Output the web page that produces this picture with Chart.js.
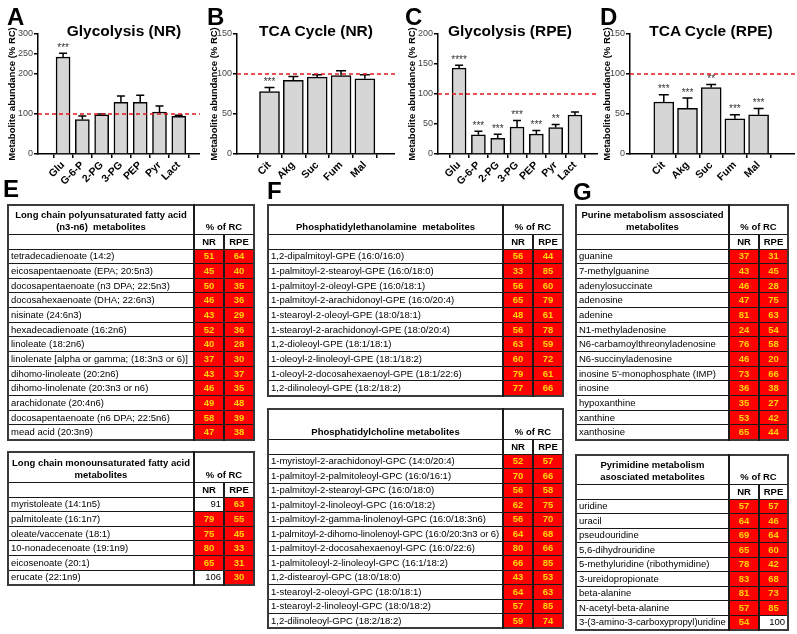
<!DOCTYPE html>
<html>
<head>
<meta charset="utf-8">
<script src="https://cdn.jsdelivr.net/npm/chart.js@4.4.1/dist/chart.umd.min.js"></script>
<style>
body { margin: 0; background: #fff; font-family: Arial, "Liberation Sans", sans-serif; }
#page { position: relative; width: 797px; height: 634px; overflow: hidden; }
canvas { position: absolute; top: 0; }
.lt { position: absolute; font-weight: bold; font-size: 24px; line-height: 24px; }
.ttl { position: absolute; top: 23px; font-weight: bold; font-size: 15.5px; line-height: 16px; white-space: nowrap; transform: translateX(-50%); }
table.t { position: absolute; border-collapse: collapse; table-layout: fixed; font-size: 9.5px; border: 2px solid #3a3a3a; }
table.t td { border: 1px solid #1a1a1a; padding: 0 2px; white-space: nowrap; overflow: hidden; line-height: 12px; }
table.t td.hd { font-weight: bold; text-align: center; vertical-align: bottom; padding-bottom: 1px; }
table.t td.sub { font-weight: bold; text-align: center; }
table.t td.c1 { border-left: 2px solid #1a1a1a; }
table.t td.v { text-align: center; font-weight: bold; color: #ffd400; background: #ff0000; }
table.t td.w { text-align: right; color: #000; }
</style>
</head>
<body>
<div id="page">
  <canvas id="chartA" width="200" height="190" style="left:0px"></canvas>
  <canvas id="chartB" width="193" height="190" style="left:202px"></canvas>
  <canvas id="chartC" width="198" height="190" style="left:400px"></canvas>
  <canvas id="chartD" width="200" height="190" style="left:595px"></canvas>

  <div class="ttl" style="left:124px">Glycolysis (NR)</div>
  <div class="ttl" style="left:316px">TCA Cycle (NR)</div>
  <div class="ttl" style="left:510px">Glycolysis (RPE)</div>
  <div class="ttl" style="left:711px">TCA Cycle (RPE)</div>

  <div class="lt" style="left:7px;top:5px">A</div>
  <div class="lt" style="left:207px;top:5px">B</div>
  <div class="lt" style="left:405px;top:5px">C</div>
  <div class="lt" style="left:600px;top:5px">D</div>
  <div class="lt" style="left:3px;top:177px">E</div>
  <div class="lt" style="left:267px;top:179px">F</div>
  <div class="lt" style="left:573px;top:180px">G</div>
</div>

<script>
// bar charts
const glyLabels = ["Glu", "G-6-P", "2-PG", "3-PG", "PEP", "Pyr", "Lact"];
const tcaLabels = ["Cit", "Akg", "Suc", "Fum", "Mal"];

const glyNR = [242, 86, 98, 129, 129, 105, 94];
const glyNRSem = [10, 9, 2, 16, 18, 15, 3];
const glyNRStars = ["***", "", "", "", "", "", ""];

const tcaNR = [78, 92, 96, 98, 94];
const tcaNRSem = [5, 5, 3, 6, 5];
const tcaNRStars = ["***", "", "", "", ""];

const glyRPE = [143, 32, 26, 45, 33, 44, 65];
const glyRPESem = [5, 6, 7, 11, 6, 5, 5];
const glyRPEStars = ["****", "***", "***", "***", "***", "**", ""];

const tcaRPE = [65, 57, 83, 44, 49];
const tcaRPESem = [9, 13, 4, 5, 8];
const tcaRPEStars = ["***", "***", "**", "***", "***"];

const ticksA = [0, 100, 200, 250, 300];
const ticksB = [0, 50, 100, 150];
const ticksC = [0, 50, 100, 150, 200];
const ticksD = [0, 50, 100, 150];
const refLevel = 100;

// tables
const pufaNames = ["tetradecadienoate (14:2)", "eicosapentaenoate (EPA; 20:5n3)", "docosapentaenoate (n3 DPA; 22:5n3)",
  "docosahexaenoate (DHA; 22:6n3)", "nisinate (24:6n3)", "hexadecadienoate (16:2n6)", "linoleate (18:2n6)",
  "linolenate [alpha or gamma; (18:3n3 or 6)]", "dihomo-linoleate (20:2n6)", "dihomo-linolenate (20:3n3 or n6)",
  "arachidonate (20:4n6)", "docosapentaenoate (n6 DPA; 22:5n6)", "mead acid (20:3n9)"];
const pufaNR = [51, 45, 50, 46, 43, 52, 40, 37, 43, 46, 49, 58, 47];
const pufaRPE = [64, 40, 35, 36, 29, 36, 28, 30, 37, 35, 48, 39, 38];

const mufaNames = ["myristoleate (14:1n5)", "palmitoleate (16:1n7)", "oleate/vaccenate (18:1)",
  "10-nonadecenoate (19:1n9)", "eicosenoate (20:1)", "erucate (22:1n9)"];
const mufaNR = [91, 79, 75, 80, 65, 106];
const mufaRPE = [63, 55, 45, 33, 31, 30];

const peNames = ["1,2-dipalmitoyl-GPE (16:0/16:0)", "1-palmitoyl-2-stearoyl-GPE (16:0/18:0)",
  "1-palmitoyl-2-oleoyl-GPE (16:0/18:1)", "1-palmitoyl-2-arachidonoyl-GPE (16:0/20:4)",
  "1-stearoyl-2-oleoyl-GPE (18:0/18:1)", "1-stearoyl-2-arachidonoyl-GPE (18:0/20:4)",
  "1,2-dioleoyl-GPE (18:1/18:1)", "1-oleoyl-2-linoleoyl-GPE (18:1/18:2)",
  "1-oleoyl-2-docosahexaenoyl-GPE (18:1/22:6)", "1,2-dilinoleoyl-GPE (18:2/18:2)"];
const peNR = [56, 33, 56, 65, 48, 56, 63, 60, 79, 77];
const peRPE = [44, 85, 60, 79, 61, 78, 59, 72, 61, 66];

const pcNames = ["1-myristoyl-2-arachidonoyl-GPC (14:0/20:4)", "1-palmitoyl-2-palmitoleoyl-GPC (16:0/16:1)",
  "1-palmitoyl-2-stearoyl-GPC (16:0/18:0)", "1-palmitoyl-2-linoleoyl-GPC (16:0/18:2)",
  "1-palmitoyl-2-gamma-linolenoyl-GPC (16:0/18:3n6)", "1-palmitoyl-2-dihomo-linolenoyl-GPC (16:0/20:3n3 or 6)",
  "1-palmitoyl-2-docosahexaenoyl-GPC (16:0/22:6)", "1-palmitoleoyl-2-linoleoyl-GPC (16:1/18:2)",
  "1,2-distearoyl-GPC (18:0/18:0)", "1-stearoyl-2-oleoyl-GPC (18:0/18:1)",
  "1-stearoyl-2-linoleoyl-GPC (18:0/18:2)", "1,2-dilinoleoyl-GPC (18:2/18:2)"];
const pcNR = [52, 70, 56, 62, 56, 64, 80, 66, 43, 64, 57, 59];
const pcRPE = [57, 66, 58, 75, 70, 68, 66, 85, 53, 63, 85, 74];

const purNames = ["guanine", "7-methylguanine", "adenylosuccinate", "adenosine", "adenine", "N1-methyladenosine",
  "N6-carbamoylthreonyladenosine", "N6-succinyladenosine", "inosine 5'-monophosphate (IMP)", "inosine",
  "hypoxanthine", "xanthine", "xanthosine"];
const purNR = [37, 43, 46, 47, 81, 24, 76, 46, 73, 36, 35, 53, 65];
const purRPE = [31, 45, 28, 75, 63, 54, 58, 20, 66, 38, 27, 42, 44];

const pyrNames = ["uridine", "uracil", "pseudouridine", "5,6-dihydrouridine", "5-methyluridine (ribothymidine)",
  "3-ureidopropionate", "beta-alanine", "N-acetyl-beta-alanine", "3-(3-amino-3-carboxypropyl)uridine"];
const pyrNR = [57, 64, 69, 65, 78, 83, 81, 57, 54];
const pyrRPE = [57, 46, 64, 60, 42, 68, 73, 85, 100];

const FONT = "Arial, 'Liberation Sans', sans-serif";

// red reference line, error bars and stars
const extras = {
  id: "extras",
  afterDatasetsDraw(chart, args, o) {
    const { ctx, chartArea, scales: { x, y } } = chart;
    ctx.save();
    ctx.strokeStyle = "#000";
    ctx.lineWidth = 1.5;
    ctx.fillStyle = "#333";
    ctx.font = "10px " + FONT;
    ctx.textAlign = "center";
    ctx.textBaseline = "alphabetic";
    o.values.forEach((v, i) => {
      const px = x.getPixelForValue(i);
      const top = y.getPixelForValue(v + o.sem[i]);
      ctx.beginPath();
      ctx.moveTo(px, y.getPixelForValue(v));
      ctx.lineTo(px, top);
      ctx.moveTo(px - o.cap, top);
      ctx.lineTo(px + o.cap, top);
      ctx.stroke();
      if (o.stars[i]) ctx.fillText(o.stars[i], px, top - 2.5);
    });
    const yr = y.getPixelForValue(o.ref);
    ctx.strokeStyle = "#e8141b";
    ctx.setLineDash([4, 3]);
    ctx.beginPath();
    ctx.moveTo(chartArea.left, yr);
    ctx.lineTo(chartArea.right, yr);
    ctx.stroke();
    ctx.restore();
  }
};

function barChart(id, labels, values, sem, stars, ticks, c) {
  const axisLine = { color: "#000", width: 1.5 };
  const tickGrid = { drawOnChartArea: false, tickLength: 4, color: "#000", lineWidth: 1.5 };
  return new Chart(document.getElementById(id), {
    type: "bar",
    data: {
      datasets: [{
        data: values.map((v, i) => ({ x: i, y: v })),
        backgroundColor: "#d6d6d6",
        borderColor: "#000",
        borderWidth: 1.5,
        barThickness: c.barW
      }]
    },
    options: {
      responsive: false,
      animation: false,
      layout: { padding: { top: 34, left: 0, right: 0, bottom: 0 } },
      plugins: {
        legend: { display: false },
        tooltip: { enabled: false },
        extras: { values: values, sem: sem, stars: stars, ref: refLevel, cap: c.cap }
      },
      scales: {
        x: {
          type: "linear",
          min: c.xMin,
          max: c.xMax,
          afterBuildTicks: s => { s.ticks = labels.map((_, i) => ({ value: i })); },
          afterFit: s => { s.height = 36; },
          ticks: {
            callback: v => labels[v],
            autoSkip: false,
            minRotation: 45,
            maxRotation: 45,
            padding: 1,
            color: "#000",
            font: { family: FONT, size: 10.5, weight: "bold" }
          },
          grid: tickGrid,
          border: axisLine
        },
        y: {
          min: 0,
          max: ticks[ticks.length - 1],
          afterBuildTicks: s => { s.ticks = ticks.map(v => ({ value: v })); },
          afterFit: s => { s.width = c.axisW; },
          ticks: { padding: 1, color: "#444", font: { family: FONT, size: 9 } },
          grid: tickGrid,
          border: axisLine,
          title: {
            display: true,
            text: "Metabolite abundance (% RC)",
            color: "#000",
            padding: { top: 7, bottom: 0 },
            font: { family: FONT, size: 9.5, weight: "bold" }
          }
        }
      }
    },
    plugins: [extras]
  });
}

barChart("chartA", glyLabels, glyNR, glyNRSem, glyNRStars, ticksA, { axisW: 38, xMin: -0.7, xMax: 6.5, barW: 14, cap: 4 });
barChart("chartB", tcaLabels, tcaNR, tcaNRSem, tcaNRStars, ticksB, { axisW: 35, xMin: -0.7, xMax: 4.6, barW: 20, cap: 5 });
barChart("chartC", glyLabels, glyRPE, glyRPESem, glyRPEStars, ticksC, { axisW: 38, xMin: -0.5, xMax: 6.6, barW: 14, cap: 4 });
barChart("chartD", tcaLabels, tcaRPE, tcaRPESem, tcaRPEStars, ticksD, { axisW: 35, xMin: -0.73, xMax: 4.84, barW: 20, cap: 5 });

function makeTable(title, names, nr, rpe, pos) {
  const t = document.createElement("table");
  t.className = "t";
  t.style.left = pos.left + "px";
  t.style.top = pos.top + "px";
  t.style.width = (pos.w[0] + pos.w[1] + pos.w[2]) + "px";
  let html = "<colgroup>" + pos.w.map(w => `<col style="width:${w}px">`).join("") + "</colgroup>";
  html += `<tr style="height:${pos.hh}px"><td class="hd">${title}</td><td class="hd c1" colspan="2">% of RC</td></tr>`;
  html += `<tr style="height:15px"><td></td><td class="sub c1">NR</td><td class="sub c1">RPE</td></tr>`;
  const cell = v => v < 90 ? `<td class="v c1">${v}</td>` : `<td class="w c1">${v}</td>`;
  names.forEach((n, i) => {
    html += `<tr style="height:${pos.rh}px"><td class="nm">${n}</td>${cell(nr[i])}${cell(rpe[i])}</tr>`;
  });
  t.innerHTML = html;
  document.getElementById("page").appendChild(t);
  // squeeze the few names that are wider than their column
  t.querySelectorAll("td.nm").forEach(td => {
    let ls = 0;
    while (td.scrollWidth > td.clientWidth && ls > -0.6) {
      ls -= 0.05;
      td.style.letterSpacing = ls + "px";
    }
  });
}

makeTable("Long chain polyunsaturated fatty acid<br>(n3-n6)&nbsp; metabolites", pufaNames, pufaNR, pufaRPE,
  { left: 7, top: 204, w: [186, 30, 30], hh: 29, rh: 14.67 });
makeTable("Long chain monounsaturated fatty acid<br>metabolites", mufaNames, mufaNR, mufaRPE,
  { left: 7, top: 451, w: [186, 30, 30], hh: 30, rh: 14.67 });
makeTable("Phosphatidylethanolamine&nbsp; metabolites", peNames, peNR, peRPE,
  { left: 267, top: 204, w: [235, 30, 30], hh: 29, rh: 14.67 });
makeTable("Phosphatidylcholine metabolites", pcNames, pcNR, pcRPE,
  { left: 267, top: 408, w: [235, 30, 30], hh: 30, rh: 14.5 });
makeTable("Purine metabolism assosciated<br>metabolites", purNames, purNR, purRPE,
  { left: 575, top: 204, w: [153, 30, 29], hh: 29, rh: 14.67 });
makeTable("Pyrimidine metabolism<br>asosciated metabolites", pyrNames, pyrNR, pyrRPE,
  { left: 575, top: 454, w: [153, 30, 29], hh: 29, rh: 14.5 });
</script>
</body>
</html>
